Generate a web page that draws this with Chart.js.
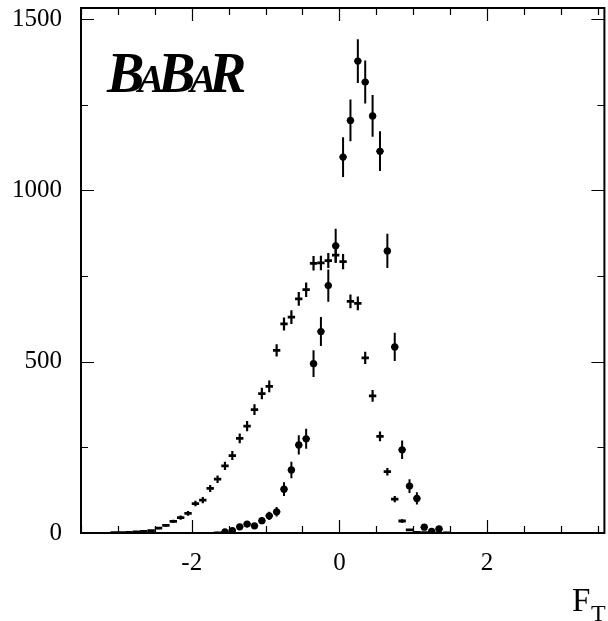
<!DOCTYPE html>
<html><head><meta charset="utf-8">
<script src="https://cdn.jsdelivr.net/npm/chart.js@4.4.1/dist/chart.umd.min.js"></script>
<style>html,body{margin:0;padding:0;background:#fff;overflow:hidden}</style>
</head><body>
<canvas id="c" width="608" height="621"></canvas>
<script>
// ---- data (bin centres, contents, errors) ----
const dotX = [-1.95,-1.85,-1.75,-1.65,-1.55,-1.45,-1.35,-1.25,-1.15,-1.05,-0.95,-0.85,-0.75,-0.65,-0.55,-0.45,-0.35,-0.25,-0.15,-0.05,0.05,0.15,0.25,0.35,0.45,0.55,0.65,0.75,0.85,0.95,1.05,1.15,1.25,1.35,1.45];
const dotY = [0.5,1,1,2,3,7,18,26,21,36,50,62,128,184,257,275,494,588,722,838,1097,1204,1377,1316,1217,1114,823,543,243,137,101,17,5,12,2];
const dotErr = [1,2,2,2,3,4,7,9,8,10,12,14,20,24,28,29,39,42,47,50,58,61,64,63,61,58,50,41,27,20,18,7,4,6,2];

const crossX = [-3.05,-2.95,-2.85,-2.75,-2.65,-2.55,-2.45,-2.35,-2.25,-2.15,-2.05,-1.95,-1.85,-1.75,-1.65,-1.55,-1.45,-1.35,-1.25,-1.15,-1.05,-0.95,-0.85,-0.75,-0.65,-0.55,-0.45,-0.35,-0.25,-0.15,-0.05,0.05,0.15,0.25,0.35,0.45,0.55,0.65,0.75,0.85,0.95,1.05,1.15];
const crossY = [1,1,2,3,5,7,14,22,34,45,57,86,96,130,157,196,226,276,312,360,407,428,533,610,630,683,710,787,788,795,811,792,676,670,511,400,282,179,99,35,9,2,1];
const crossErr = [1,1,1,1,2,2,3,4,5,6,7,8,9,10,11,12,13,14,15,16,17,17,18,19,20,20,21,21,21,22,22,22,20,20,18,17,14,11,9,5,3,1,1];

const binHalfWidth = 0.05;
const xRange = [-3.5, 3.59];
const yRange = [0, 1532];
const xMajorTicks = [-2, 0, 2];
const xMinorTicks = [-3.5,-3,-2.5,-1.5,-1,-0.5,0.5,1,1.5,2.5,3,3.5];
const yMajorTicks = [0, 500, 1000, 1500];
const yMinorTicks = [250, 750, 1250];
const xTitle = 'F', xTitleSub = 'T';
const logoLetters = ['B','A','B','A','R'];

const SERIF = '"Liberation Serif", "Times New Roman", serif';

const drawPlugin = {
  id: 'rootStyle',
  beforeDatasetsDraw(chart) {
    const {ctx, scales: {x, y}, chartArea: a} = chart;
    ctx.save();
    ctx.beginPath(); ctx.rect(a.left, a.top - 1, a.right - a.left, a.bottom - a.top + 1); ctx.clip();
    ctx.strokeStyle = '#000';
    ctx.lineCap = 'butt';
    // cross vertical error bars
    ctx.lineWidth = 2.2;
    crossX.forEach((cx, i) => {
      const px = x.getPixelForValue(cx);
      ctx.beginPath();
      ctx.moveTo(px, y.getPixelForValue(crossY[i] - crossErr[i]));
      ctx.lineTo(px, y.getPixelForValue(crossY[i] + crossErr[i]));
      ctx.stroke();
    });
    // dot horizontal bin bars + vertical error bars
    dotX.forEach((cx, i) => {
      const py = y.getPixelForValue(dotY[i]);
      ctx.lineWidth = 1.5;
      ctx.beginPath();
      ctx.moveTo(x.getPixelForValue(cx - binHalfWidth), py);
      ctx.lineTo(x.getPixelForValue(cx + binHalfWidth), py);
      ctx.stroke();
      const px = x.getPixelForValue(cx);
      ctx.lineWidth = 2;
      ctx.beginPath();
      ctx.moveTo(px, y.getPixelForValue(dotY[i] - dotErr[i]));
      ctx.lineTo(px, y.getPixelForValue(dotY[i] + dotErr[i]));
      ctx.stroke();
    });
    ctx.restore();
  },
  afterDraw(chart) {
    const {ctx, scales: {x, y}, chartArea: a} = chart;
    ctx.save();
    ctx.strokeStyle = '#000';
    // ticks
    ctx.lineWidth = 1.2;
    const tickX = (v, len) => {
      const px = Math.round(x.getPixelForValue(v)) + 0.5;
      ctx.beginPath();
      ctx.moveTo(px, a.bottom); ctx.lineTo(px, a.bottom - len);
      ctx.moveTo(px, a.top); ctx.lineTo(px, a.top + len);
      ctx.stroke();
    };
    const tickY = (v, len) => {
      const py = Math.round(y.getPixelForValue(v)) + 0.5;
      ctx.beginPath();
      ctx.moveTo(a.left, py); ctx.lineTo(a.left + len, py);
      ctx.moveTo(a.right, py); ctx.lineTo(a.right - len, py);
      ctx.stroke();
    };
    xMajorTicks.forEach(v => tickX(v, 13));
    xMinorTicks.forEach(v => tickX(v, 7));
    yMajorTicks.forEach(v => tickY(v, 13));
    yMinorTicks.forEach(v => tickY(v, 7));
    // frame
    ctx.lineWidth = 2;
    ctx.strokeRect(a.left, a.top, a.right - a.left, a.bottom - a.top);
    // axis title F_T
    ctx.fillStyle = '#000';
    ctx.textBaseline = 'alphabetic';
    ctx.textAlign = 'left';
    ctx.font = '33px ' + SERIF;
    ctx.fillText(xTitle, 572, 611);
    ctx.font = '24px ' + SERIF;
    ctx.fillText(xTitleSub, 591, 621);
    // BaBar logo
    const big = 'italic bold 56px ' + SERIF;
    const small = 'italic bold 39px ' + SERIF;
    const pos = [107, 138, 158, 190, 209];
    logoLetters.forEach((ch, i) => {
      ctx.font = (i % 2 === 1) ? small : big;
      ctx.fillText(ch, pos[i], 92);
    });
    ctx.restore();
  }
};

const tickFont = {family: SERIF, size: 25};

new Chart(document.getElementById('c'), {
  type: 'scatter',
  data: {
    datasets: [
      {
        label: 'crosses',
        data: crossX.map((v, i) => ({x: v, y: crossY[i]})),
        pointStyle: 'line',
        pointRadius: (c) => {
          const sx = c.chart.scales && c.chart.scales.x;
          if (!sx) return 3.7;
          return Math.abs(sx.getPixelForValue(binHalfWidth) - sx.getPixelForValue(0));
        },
        pointBorderWidth: 2.8,
        borderColor: '#000',
        backgroundColor: '#000',
        pointHoverRadius: 0
      },
      {
        label: 'dots',
        data: dotX.map((v, i) => ({x: v, y: dotY[i]})),
        pointStyle: 'circle',
        pointRadius: (c) => (c.raw && c.raw.y >= 3) ? 3.6 : 0,
        pointBorderWidth: 0,
        borderColor: '#000',
        backgroundColor: '#000',
        pointHoverRadius: 0
      }
    ]
  },
  options: {
    responsive: false,
    animation: false,
    devicePixelRatio: 1,
    events: [],
    layout: {padding: {top: 8, right: 2, left: 0, bottom: 0}},
    plugins: {legend: {display: false}, tooltip: {enabled: false}},
    scales: {
      x: {
        type: 'linear', min: xRange[0], max: xRange[1],
        grid: {display: false, drawTicks: false, tickLength: 0},
        border: {display: false},
        ticks: {font: tickFont, color: '#000', padding: 15, maxRotation: 0, autoSkip: false,
                callback: (v) => String(v)},
        afterBuildTicks: (s) => { s.ticks = xMajorTicks.map(v => ({value: v})); },
        afterFit: (s) => { s.height = 88; s.paddingLeft = 0; s.paddingRight = 0; }
      },
      y: {
        type: 'linear', min: yRange[0], max: yRange[1],
        grid: {display: false, drawTicks: false, tickLength: 0},
        border: {display: false},
        ticks: {font: tickFont, color: '#000', padding: 19, autoSkip: false,
                callback: (v) => String(v)},
        afterBuildTicks: (s) => { s.ticks = yMajorTicks.map(v => ({value: v})); },
        afterFit: (s) => { s.width = 81; s.paddingTop = 0; s.paddingBottom = 0; }
      }
    }
  },
  plugins: [drawPlugin]
});
</script>
</body></html>
